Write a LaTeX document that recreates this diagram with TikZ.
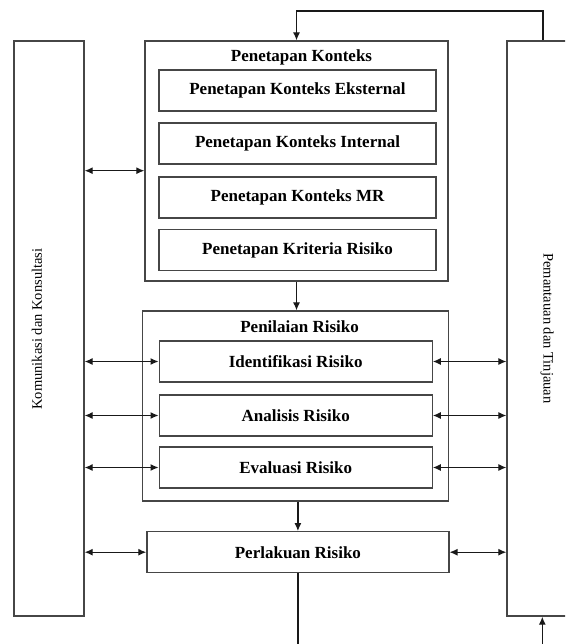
\documentclass[tikz,border=0pt]{standalone}
\usepackage{fontspec}
\setmainfont{Liberation Serif}
\usetikzlibrary{arrows.meta}

\begin{document}
\begin{tikzpicture}[x=1pt, y=-1pt, >={Latex[length=8pt,width=7pt]}]

\definecolor{linecolor}{RGB}{70, 70, 70}
\definecolor{arrowcolor}{RGB}{25, 25, 25}

\tikzset{
  box/.style={draw=linecolor, line width=1.3pt, inner sep=0pt, font=\fontsize{17}{20}\selectfont\bfseries},
  frame/.style={draw=linecolor, line width=1.3pt, inner sep=0pt},
  title/.style={inner sep=0pt, font=\fontsize{17}{20}\selectfont\bfseries},
  sidetext/.style={inner sep=0pt, font=\fontsize{14.5}{17}\selectfont},
  link/.style={<->, line width=1.2pt, arrowcolor},
  flow/.style={->, line width=1.2pt, arrowcolor},
}

\useasboundingbox (0,0) rectangle (565,644);
\clip (0,0) rectangle (565,644);

% side columns
\node[frame, minimum width=70pt, minimum height=575pt] (kom) at (49, 328.5) {};
\node[sidetext, rotate=90] (komtext) at (37, 329) {Komunikasi dan Konsultasi};
\node[frame, minimum width=68pt, minimum height=575pt] (pem) at (541, 328.5) {};
\node[sidetext, rotate=-90] (pemtext) at (547, 328.5) {Pemantauan dan Tinjauan};

% penetapan konteks
\node[frame, minimum width=303pt, minimum height=240pt] (ctx) at (296.5, 161) {};
\node[title] (ctxtitle) at (301.5, 57) {Penetapan Konteks};
\node[box, minimum width=277pt, minimum height=41pt] (eks) at (297.5, 90.5) {Penetapan Konteks Eksternal};
\node[box, minimum width=277pt, minimum height=41pt] (int) at (297.5, 143.5) {Penetapan Konteks Internal};
\node[box, minimum width=277pt, minimum height=41pt] (mr) at (297.5, 197.5) {Penetapan Konteks MR};
\node[box, minimum width=277pt, minimum height=41pt] (krit) at (297.5, 250) {Penetapan Kriteria Risiko};

% penilaian risiko
\node[frame, minimum width=306pt, minimum height=190pt] (pen) at (295.4, 406) {};
\node[title] (pentitle) at (299.6, 327) {Penilaian Risiko};
\node[box, minimum width=273pt, minimum height=41pt] (idf) at (295.7, 361.5) {Identifikasi Risiko};
\node[box, minimum width=273pt, minimum height=41pt] (ana) at (295.7, 415.5) {Analisis Risiko};
\node[box, minimum width=273pt, minimum height=41pt] (eva) at (295.7, 467.5) {Evaluasi Risiko};

\node[box, minimum width=302pt, minimum height=41pt] (perl) at (297.9, 552.2) {Perlakuan Risiko};

\coordinate (ctxlink) at (145, 170.7);
\coordinate (loop) at (543, 11);
\coordinate (out) at (298, 650);
\coordinate (back) at (542.3, 650);

% links to the side columns
\draw[link] (kom.east |- ctxlink) -- (ctx.west |- ctxlink);
\foreach \n in {idf, ana, eva} {
  \draw[link] (kom.east |- \n) -- (\n.west);
  \draw[link] (\n.east) -- (pem.west |- \n);
}
\draw[link] (kom.east |- perl) -- (perl.west);
\draw[link] (perl.east) -- (pem.west |- perl);

% main flow
\draw[flow] (pem.north -| loop) -- (loop) -- (loop -| ctx.north) -- (ctx.north);
\draw[flow] (ctx.south) -- (ctx.south |- pen.north);
\draw[flow] (pen.south -| perl.north) -- (perl.north);
\draw[line width=1.2pt, arrowcolor] (perl.south) -- (perl.south |- out);
\draw[flow] (back) -- (back |- pem.south);

\end{tikzpicture}
\end{document}
